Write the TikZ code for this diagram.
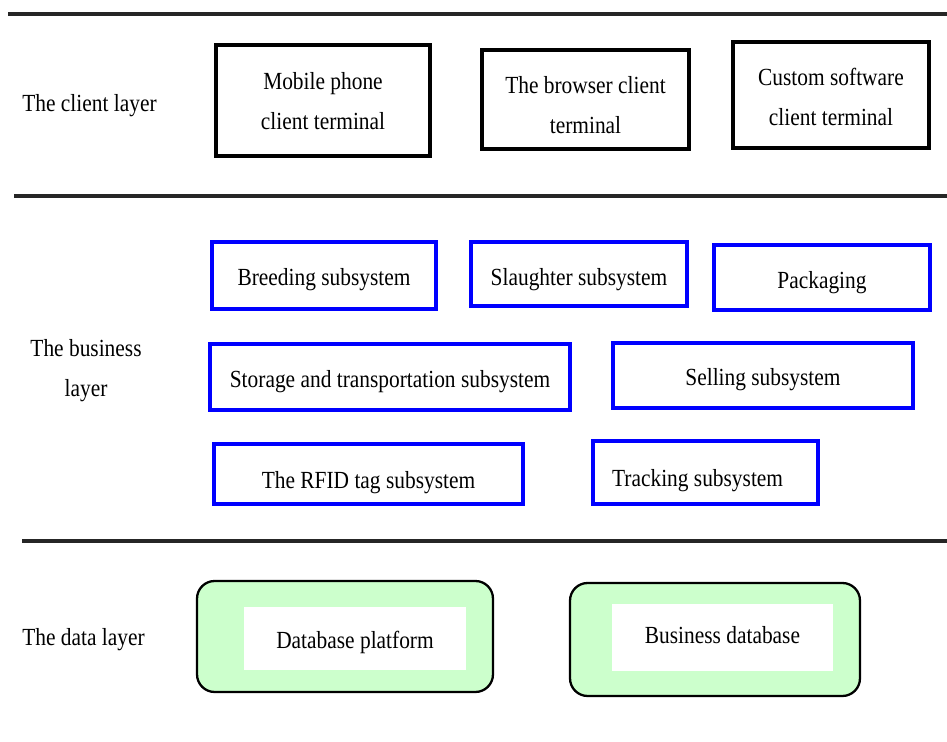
\documentclass[tikz,border=0pt]{standalone}
\usepackage{fontspec}
\setmainfont{Liberation Serif}[FakeStretch=0.87]
\usepackage{tikz}
\usetikzlibrary{positioning}
\definecolor{azul}{RGB}{0, 0, 255}
\definecolor{verdeClaro}{RGB}{204, 255, 204}
\tikzstyle{sep}   =[line width=1.8pt, black!85]
\tikzstyle{client}=[rectangle, draw, line width=2.3pt, align=center,
                    font=\fontsize{14}{22.7}\selectfont, inner sep=0pt,
                    text depth=0pt, text height=33.3pt]
\tikzstyle{subsys}=[rectangle, draw=azul, line width=2.3pt,
                    font=\fontsize{14}{17}\selectfont, inner sep=0pt,
                    text depth=3pt, text height=14pt]
\tikzstyle{dbbox} =[rectangle, rounded corners=10pt, draw, line width=1.3pt,
                    fill=verdeClaro]
\tikzstyle{dbtext}=[rectangle, fill=white,
                    font=\fontsize{14}{17}\selectfont, inner sep=0pt,
                    text depth=3pt, text height=14pt]
\tikzstyle{layer} =[font=\fontsize{14}{22.7}\selectfont, inner sep=0pt,
                    yshift=-0.06cm]

\begin{document}
\begin{tikzpicture}[x=0.02cm,y=-0.02cm]
    \useasboundingbox (0,0) rectangle (947,742);

    % layer separators
    \foreach \x/\y in {8/14,14/196,22/541}
        \draw [sep] (\x,\y) -- (947,\y);

    % client layer
    \node (lclient) [layer, anchor=west] at (22,103) {The client layer};
    \node (mobile) [client, minimum width=4.28cm, minimum height=2.22cm]
        at (323,100.5) {Mobile phone\\client terminal};
    \node (browser) [client, minimum width=4.14cm, minimum height=1.98cm,
        text height=39pt] at (585.5,99.5) {The browser client\\terminal};
    \node (custom) [client, minimum width=3.92cm, minimum height=2.12cm,
        text height=34.5pt] at (831,95) {Custom software\\client terminal};

    % business layer
    \node (lbusiness) [layer, align=center] at (86,367.5) {The business\\layer};
    \node (breeding) [subsys, minimum width=4.48cm, minimum height=1.34cm]
        at (324,275.5) {Breeding subsystem};
    \node (slaughter) [subsys, minimum width=4.32cm, minimum height=1.28cm,
        text height=16.3pt] at (579,274) {Slaughter subsystem};
    \node (packaging) [subsys, minimum width=4.32cm, minimum height=1.30cm,
        text height=15.2pt] at (822,277.5) {Packaging};
    \node (storage) [subsys, minimum width=7.2cm, minimum height=1.32cm,
        text height=15.2pt] at (390,377) {Storage and transportation subsystem};
    \node (selling) [subsys, minimum width=6.0cm, minimum height=1.30cm]
        at (763,375.5) {Selling subsystem};
    \node (rfid) [subsys, minimum width=6.18cm, minimum height=1.2cm,
        text height=19.7pt] at (368.5,474) {The RFID tag subsystem};
    \node (tracking) [subsys, minimum width=4.5cm, minimum height=1.26cm,
        text height=18.6pt] at (705.5,472.5) {\hspace*{-9pt}Tracking subsystem};

    % data layer
    \node (ldata) [layer, anchor=west] at (22,637) {The data layer};
    \node (dbplat) [dbbox, minimum width=5.92cm, minimum height=2.22cm]
        at (345,636.5) {};
    \node (dbplattext) [dbtext, minimum width=4.44cm, minimum height=1.26cm]
        at (355,638.5) {Database platform};
    \node (bizdb) [dbbox, minimum width=5.8cm, minimum height=2.26cm]
        at (715,639.5) {};
    \node (bizdbtext) [dbtext, minimum width=4.42cm, minimum height=1.34cm,
        text depth=0pt, text height=7.2pt] at (722.5,637.5) {Business database};

\end{tikzpicture}
\end{document}
